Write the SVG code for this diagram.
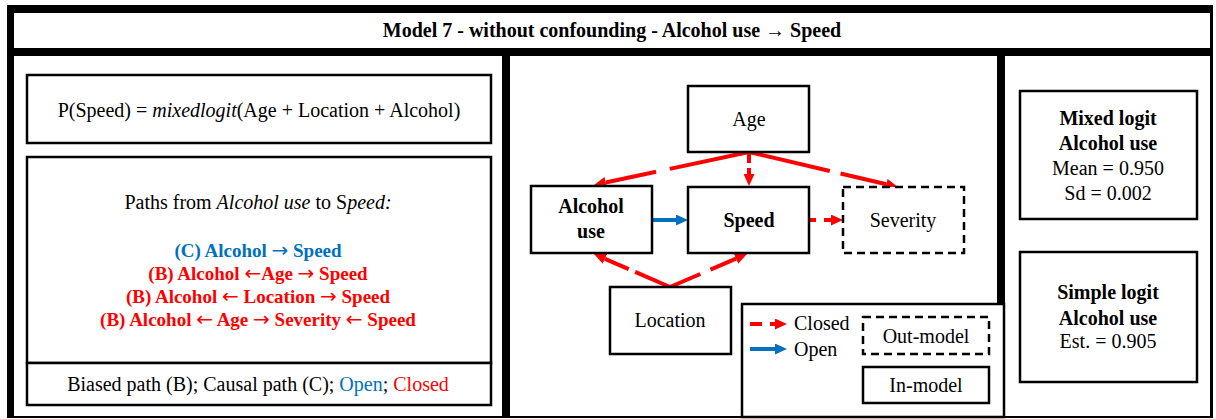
<svg xmlns="http://www.w3.org/2000/svg" width="1216" height="419" viewBox="0 0 1216 419">
  <style>
    text { font-family: "Liberation Serif", "Times New Roman", serif; font-size: 20px; fill: #000; }
    .b { font-weight: bold; }
    .mid { text-anchor: middle; }
    .box { fill: #fff; stroke: #000; stroke-width: 2.5; }
    .dbox { fill: #fff; stroke: #000; stroke-width: 2.5; stroke-dasharray: 8 5; }
    .red { fill: #ff0000; }
    .blue { fill: #0070c0; }
    .closed { fill: none; stroke: #ff0000; stroke-width: 4; marker-end: url(#headRed); }
    .open { fill: none; stroke: #0070c0; stroke-width: 4; marker-end: url(#headBlue); }
    .path { font-size: 19px; font-weight: bold; text-anchor: middle; }
    .arr { font-family: "DejaVu Sans", sans-serif; font-weight: normal; font-size: 20px; }
  </style>
  <defs>
    <marker id="headRed" viewBox="0 0 12 11" refX="0" refY="5.5" markerWidth="12" markerHeight="11" markerUnits="userSpaceOnUse" orient="auto">
      <path d="M0,0 L12,5.5 L0,11 Z" fill="#ff0000"/>
    </marker>
    <marker id="headBlue" viewBox="0 0 12 11" refX="0" refY="5.5" markerWidth="12" markerHeight="11" markerUnits="userSpaceOnUse" orient="auto">
      <path d="M0,0 L12,5.5 L0,11 Z" fill="#0070c0"/>
    </marker>
  </defs>

  <!-- frame and panels -->
  <g id="frame">
    <rect x="7" y="5" width="1206" height="413" fill="#000"/>
    <rect x="14" y="13" width="1196" height="35" fill="#fff"/>
    <rect x="14" y="56" width="488" height="360" fill="#fff"/>
    <rect x="510" y="56" width="487" height="360" fill="#fff"/>
    <rect x="1005" y="56" width="205" height="360" fill="#fff"/>
  </g>

  <g id="title">
    <text class="b mid" x="612" y="37">Model 7 - without confounding - Alcohol use → Speed</text>
  </g>

  <!-- left panel: formula and path list -->
  <g id="formula">
    <rect class="box" x="27" y="75" width="464" height="68"/>
    <text class="mid" x="259" y="117">P(Speed) = <tspan font-style="italic">mixedlogit</tspan>(Age + Location + Alcohol)</text>
  </g>
  <g id="paths">
    <rect class="box" x="27" y="157" width="464" height="206"/>
    <text class="mid" x="258" y="209">Paths from <tspan font-style="italic">Alcohol use</tspan> to S<tspan font-style="italic">peed:</tspan></text>
    <text class="path blue" x="258" y="257">(C) Alcohol <tspan class="arr">→</tspan> Speed</text>
    <text class="path red" x="258" y="280">(B) Alcohol <tspan class="arr">←</tspan>Age <tspan class="arr">→</tspan> Speed</text>
    <text class="path red" x="258" y="303">(B) Alcohol <tspan class="arr">←</tspan> Location <tspan class="arr">→</tspan> Speed</text>
    <text class="path red" x="258" y="326">(B) Alcohol <tspan class="arr">←</tspan> Age <tspan class="arr">→</tspan> Severity <tspan class="arr">←</tspan> Speed</text>
  </g>
  <g id="key">
    <rect class="box" x="27" y="363" width="464" height="42"/>
    <text class="mid" x="258" y="391">Biased path (B); Causal path (C); <tspan class="blue">Open</tspan>; <tspan class="red">Closed</tspan></text>
  </g>

  <!-- middle panel: causal graph -->
  <g id="connectors">
    <path class="closed" d="M749,152 L605.7,182.5" stroke-dasharray="81 14 60 20"/>
    <path class="closed" d="M749,152 L749,174" stroke-dasharray="11 5 20"/>
    <path class="closed" d="M749,152 L886.3,184.3" stroke-dasharray="83 11 60"/>
    <path class="closed" d="M809,220 L831,220" stroke-dasharray="7 8 20"/>
    <path class="open" d="M652,220 L676,220"/>
    <path class="closed" d="M670,287 L605,258.8" stroke-dasharray="38 7 40"/>
    <path class="closed" d="M670,287 L736,258.7" stroke-dasharray="33 11 40"/>
  </g>
  <g id="age">
    <rect class="box" x="688" y="86" width="121" height="66"/>
    <text class="mid" x="749" y="126">Age</text>
  </g>
  <g id="alcohol">
    <rect class="box" x="531" y="186" width="121" height="67"/>
    <text class="b mid" x="591" y="213">Alcohol</text>
    <text class="b mid" x="591" y="238">use</text>
  </g>
  <g id="speed">
    <rect class="box" x="688" y="187" width="121" height="66"/>
    <text class="b mid" x="749" y="227">Speed</text>
  </g>
  <g id="severity">
    <rect class="dbox" x="843" y="187" width="121" height="66"/>
    <text class="mid" x="903" y="227">Severity</text>
  </g>
  <g id="location">
    <rect class="box" x="610" y="287" width="121" height="67"/>
    <text class="mid" x="670" y="327">Location</text>
  </g>

  <g id="legend">
    <rect class="box" x="742" y="304" width="262" height="113"/>
    <path class="closed" d="M750,324 L775,324" stroke-dasharray="12 8 20"/>
    <text x="794" y="330">Closed</text>
    <path class="open" d="M750,349 L775,349"/>
    <text x="794" y="356">Open</text>
    <rect class="dbox" x="863" y="317" width="126" height="37"/>
    <text class="mid" x="926" y="343">Out-model</text>
    <rect class="box" x="863" y="367" width="126" height="36"/>
    <text class="mid" x="926" y="392">In-model</text>
  </g>

  <!-- right panel: estimates -->
  <g id="mixed">
    <rect class="box" x="1020" y="91" width="177" height="128"/>
    <text class="b mid" x="1108" y="125">Mixed logit</text>
    <text class="b mid" x="1108" y="150">Alcohol use</text>
    <text class="mid" x="1108" y="175">Mean = 0.950</text>
    <text class="mid" x="1108" y="200">Sd = 0.002</text>
  </g>
  <g id="simple">
    <rect class="box" x="1020" y="252" width="177" height="130"/>
    <text class="b mid" x="1108" y="299">Simple logit</text>
    <text class="b mid" x="1108" y="325">Alcohol use</text>
    <text class="mid" x="1108" y="348">Est. = 0.905</text>
  </g>
</svg>
